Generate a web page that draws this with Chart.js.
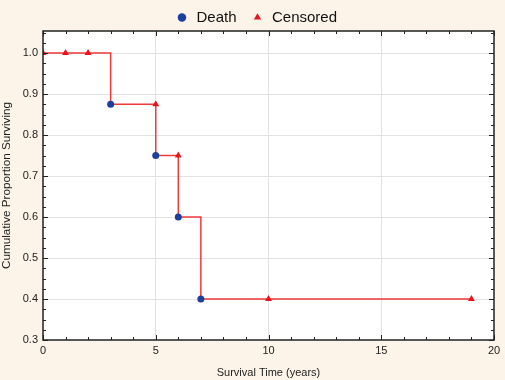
<!DOCTYPE html>
<html>
<head>
<meta charset="utf-8">
<script src="https://cdn.jsdelivr.net/npm/chart.js@4/dist/chart.umd.min.js"></script>
<style>
  html, body { margin: 0; padding: 0; background: #fcf4e9; }
  #wrap { width: 505px; height: 380px; }
</style>
</head>
<body>
<div id="wrap"><canvas id="km" width="505" height="380"></canvas></div>
<script>
// Kaplan-Meier curve (step points)
const curveTimes = [0, 3, 5, 6, 7, 19];
const curveSurv  = [1.0, 0.875, 0.75, 0.6, 0.4, 0.4];

// deaths
const deathTimes = [3, 5, 6, 7];
const deathSurv  = [0.875, 0.75, 0.6, 0.4];

// censored
const censTimes = [0, 1, 2, 5, 6, 10, 19];
const censSurv  = [1.0, 1.0, 1.0, 0.875, 0.75, 0.4, 0.4];

const xTicks = [0, 5, 10, 15, 20];
const yTicks = [0.3, 0.4, 0.5, 0.6, 0.7, 0.8, 0.9, 1.0];

const toPts = (xs, ys) => xs.map((x, i) => ({ x: x, y: ys[i] }));

// inner minor ticks on all four sides + frame
const frameTicks = {
  id: "frameTicks",
  afterDatasetsDraw(chart) {
    const { ctx, chartArea: a, scales: { x, y } } = chart;
    ctx.save();
    ctx.strokeStyle = "#222";
    ctx.lineWidth = 1;
    ctx.beginPath();
    for (let v = 0; v <= 20; v += 1) {
      const px = Math.round(x.getPixelForValue(v)) + 0.5;
      const len = v % 5 === 0 ? 5 : 3;
      ctx.moveTo(px, a.bottom); ctx.lineTo(px, a.bottom - len);
      ctx.moveTo(px, a.top); ctx.lineTo(px, a.top + len);
    }
    for (let k = 0; k <= 30; k++) {
      const v = 0.3 + k * 0.025;
      const py = Math.round(y.getPixelForValue(v)) + 0.5;
      const len = k % 4 === 0 ? 5 : 3;
      ctx.moveTo(a.left, py); ctx.lineTo(a.left + len, py);
      ctx.moveTo(a.right, py); ctx.lineTo(a.right - len, py);
    }
    ctx.stroke();
    ctx.lineWidth = 1.5;
    ctx.strokeRect(a.left, a.top, a.right - a.left, a.bottom - a.top);
    ctx.restore();
  }
};

const whiteArea = {
  id: "whiteArea",
  beforeDraw(chart) {
    const { ctx, chartArea: a } = chart;
    ctx.save();
    ctx.fillStyle = "#ffffff";
    ctx.fillRect(a.left, a.top, a.right - a.left, a.bottom - a.top);
    ctx.restore();
  }
};

// fixed legend height, legend nudged to match the original placement
const legendTweak = {
  id: "legendTweak",
  beforeInit(chart) {
    const lg = chart.legend;
    const fit = lg.fit;
    lg.fit = function () {
      fit.call(this);
      this.height = 31;
    };
    const draw = lg.draw;
    lg.draw = function () {
      this.ctx.save();
      this.ctx.translate(9, -4);
      draw.call(this);
      this.ctx.restore();
    };
  }
};

Chart.defaults.font.family = "'Liberation Sans', Arial, sans-serif";
Chart.defaults.color = "#222";

new Chart(document.getElementById("km"), {
  type: "scatter",
  data: {
    datasets: [
      {
        label: "Death",
        data: toPts(deathTimes, deathSurv),
        pointStyle: "circle",
        pointRadius: 3.5,
        backgroundColor: "#1c3f9e",
        borderColor: "#1c3f9e",
        borderWidth: 0,
        order: 0
      },
      {
        label: "Censored",
        data: toPts(censTimes, censSurv),
        pointStyle: "triangle",
        pointRadius: 4,
        backgroundColor: "#e8131b",
        borderColor: "#e8131b",
        borderWidth: 0,
        order: 1
      },
      {
        label: "curve",
        type: "line",
        data: toPts(curveTimes, curveSurv),
        stepped: "before",
        borderColor: "#ef3a3a",
        borderWidth: 1.5,
        pointRadius: 0,
        fill: false,
        order: 2
      }
    ]
  },
  options: {
    responsive: false,
    animation: false,
    layout: { padding: { left: 0, right: 11, top: 0, bottom: 0 } },
    plugins: {
      legend: {
        position: "top",
        labels: {
          usePointStyle: true,
          boxWidth: 14,
          boxHeight: 6,
          padding: 14,
          font: { size: 15 },
          color: "#111",
          filter: item => item.text !== "curve"
        }
      },
      tooltip: { enabled: false }
    },
    scales: {
      x: {
        type: "linear",
        min: 0,
        max: 20,
        afterBuildTicks: s => { s.ticks = xTicks.map(v => ({ value: v })); },
        afterFit: s => { s.height = 40; },
        ticks: { font: { size: 11 }, padding: 4, maxRotation: 0, color: "#222" },
        grid: {
          drawTicks: false,
          color: ctx => (ctx.tick && (ctx.tick.value === 0 || ctx.tick.value === 20)) ? "rgba(0,0,0,0)" : "#e2e2e2"
        },
        border: { display: false },
        title: {
          display: true,
          text: "Survival Time (years)",
          font: { size: 11 },
          color: "#222",
          padding: { top: 2, bottom: 0 }
        }
      },
      y: {
        type: "linear",
        min: 0.3,
        max: 1.0537,
        afterBuildTicks: s => { s.ticks = yTicks.map(v => ({ value: v })); },
        afterFit: s => { s.width = 43; },
        ticks: {
          font: { size: 11 },
          padding: 5,
          color: "#222",
          callback: v => v.toFixed(1)
        },
        grid: {
          drawTicks: false,
          color: ctx => (ctx.tick && ctx.tick.value === 0.3) ? "rgba(0,0,0,0)" : "#e2e2e2"
        },
        border: { display: false },
        title: {
          display: true,
          text: "Cumulative Proportion Surviving",
          font: { size: 11.7 },
          color: "#222",
          padding: { top: 0, bottom: 2 }
        }
      }
    }
  },
  plugins: [whiteArea, frameTicks, legendTweak]
});
</script>
</body>
</html>
